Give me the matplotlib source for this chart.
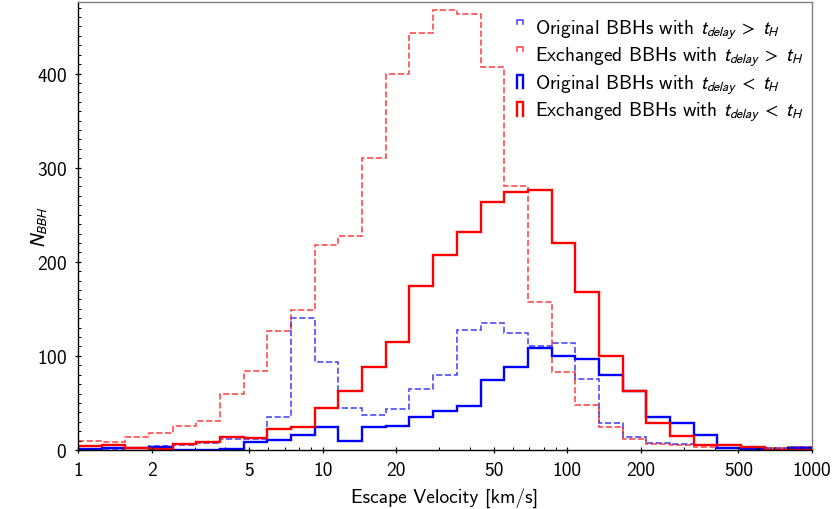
import numpy as np
import matplotlib
matplotlib.use("Agg")
import matplotlib.pyplot as plt
from matplotlib.lines import Line2D
from matplotlib.legend_handler import HandlerBase
from matplotlib.ticker import FixedLocator, FixedFormatter, LogLocator, MultipleLocator, NullFormatter

plt.rcParams["font.family"] = ["cmss10", "DejaVu Sans"]
plt.rcParams["mathtext.fontset"] = "stixsans"
plt.rcParams["axes.unicode_minus"] = False
plt.rcParams["axes.formatter.use_mathtext"] = True

# Escape-velocity bins: 31 log-spaced bins between 1 and 1000 km/s
bin_edges = np.logspace(0, 3, 32)

# Counts per bin
orig_long = [1, 1, 2, 4, 5, 7, 12, 12, 35, 140, 93, 45, 37, 44, 65, 80,
             128, 135, 124, 110, 114, 75, 29, 14, 7, 6, 5, 2, 2, 2, 3]
exch_long = [10, 8, 14, 18, 26, 31, 59, 84, 126, 149, 218, 227, 310, 399, 443, 468,
             463, 407, 281, 157, 83, 48, 24, 12, 6, 5, 3, 2, 2, 2, 3]
orig_short = [1, 2.5, 2.5, 3, 0, 0, 1, 9, 11, 16, 24, 10, 24, 25, 35, 41,
              47, 74, 88, 108, 100, 97, 80, 63, 35, 29, 16, 2, 1, 0, 2]
exch_short = [4, 5, 2, 1, 6, 9, 14, 13, 22, 24, 45, 63, 88, 115, 174, 207,
              232, 264, 274, 276, 220, 168, 100, 63, 29, 15, 5, 5, 3, 0, 0]

labels = [r"Original BBHs with $t_{delay}\;>\;t_H$",
          r"Exchanged BBHs with $t_{delay}\;>\;t_H$",
          r"Original BBHs with $t_{delay}\;<\;t_H$",
          r"Exchanged BBHs with $t_{delay}\;<\;t_H$"]

xtick_vals = [1, 2, 5, 10, 20, 50, 100, 200, 500, 1000]
xtick_text = ["1", "2", "5", "10", "20", "50", "100", "200", "500", "1000"]


class CapHandler(HandlerBase):
    """Legend key drawn as an open-bottomed box in the line's style."""

    def __init__(self, frac_h=1.0, frac_w=1.0):
        super().__init__()
        self.frac_h = frac_h
        self.frac_w = frac_w

    def create_artists(self, legend, orig_handle, xdescent, ydescent,
                       width, height, fontsize, trans):
        x0 = -xdescent
        x1 = x0 + width * self.frac_w
        top = -ydescent + height
        bottom = top - height * self.frac_h
        line = Line2D([x0, x0, x1, x1], [bottom, top, top, bottom],
                      color=orig_handle.get_edgecolor(),
                      lw=orig_handle.get_linewidth(), solid_joinstyle="miter")
        line.set_transform(trans)
        return [line]


fig = plt.figure(figsize=(8.36, 5.10), dpi=100)
ax = fig.add_axes([0.0933, 0.1157, 0.878, 0.8784])

h1 = ax.stairs(orig_long, bin_edges, color="blue", alpha=0.7, lw=1.2, ls="--")
h2 = ax.stairs(exch_long, bin_edges, color="red", alpha=0.7, lw=1.2, ls="--")
h3 = ax.stairs(orig_short, bin_edges, color="blue", lw=1.7)
h4 = ax.stairs(exch_short, bin_edges, color="red", lw=1.7)

ax.set_xscale("log")
ax.set_xlim(1, 1000)
ax.set_ylim(0, 476)

ax.xaxis.set_major_locator(FixedLocator(xtick_vals))
ax.xaxis.set_major_formatter(FixedFormatter(xtick_text))
ax.xaxis.set_minor_locator(LogLocator(base=10, subs=np.arange(2, 10), numticks=20))
ax.xaxis.set_minor_formatter(NullFormatter())
ax.yaxis.set_major_locator(MultipleLocator(100))
ax.yaxis.set_minor_locator(MultipleLocator(10))

ax.tick_params(which="major", direction="inout", length=4, width=0.9,
               labelsize=14, pad=6)
ax.tick_params(which="minor", direction="in", length=2.5, width=0.7)

for side in ("top", "right"):
    ax.spines[side].set_color("#808080")
for side in ("left", "bottom"):
    ax.spines[side].set_color("black")
for sp in ax.spines.values():
    sp.set_linewidth(1.0)

ax.set_xlabel("Escape Velocity [km/s]", fontsize=14, labelpad=6)
ax.set_ylabel(r"$N_{BBH}$", fontsize=14, labelpad=-10)

ax.legend([h1, h2, h3, h4], labels, loc="upper right", frameon=False,
          bbox_to_anchor=(1.011, 1.003),
          fontsize=14, handlelength=0.3, handleheight=0.7, handletextpad=0.65,
          labelspacing=0.18, borderaxespad=0.45,
          handler_map={h1: CapHandler(0.3), h2: CapHandler(0.3),
                       h3: CapHandler(1.0), h4: CapHandler(1.0)})

fig.savefig("out.png", dpi=100)
